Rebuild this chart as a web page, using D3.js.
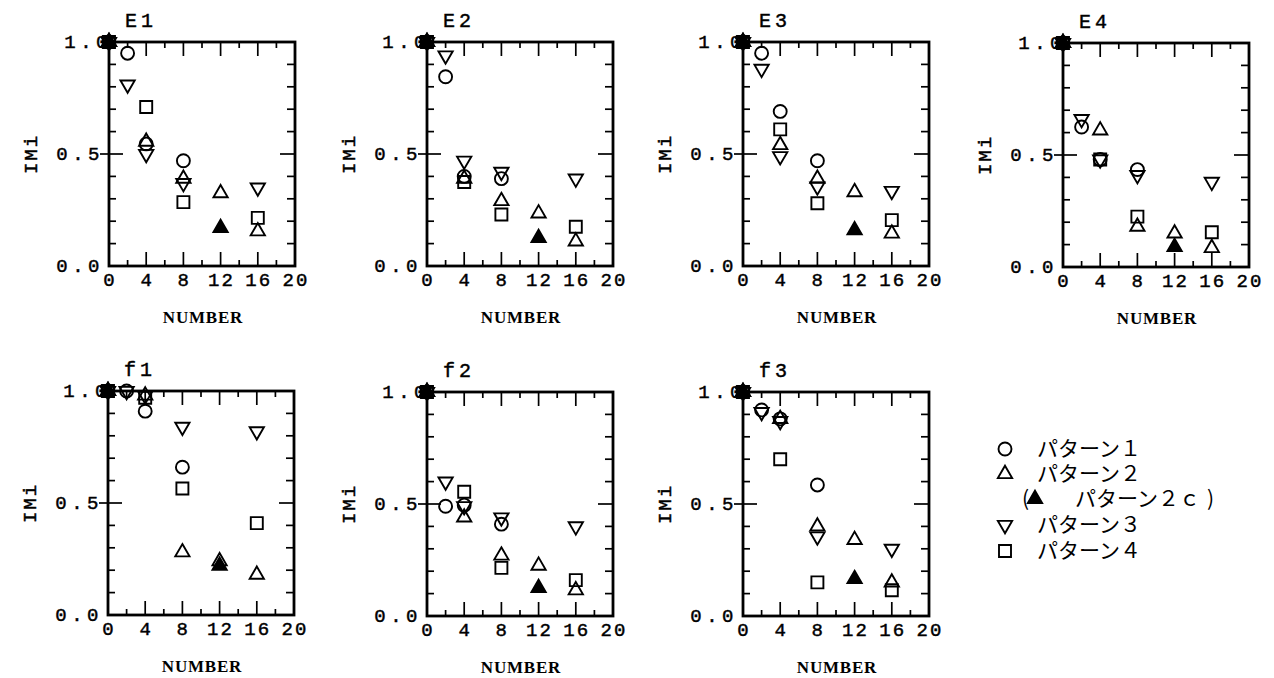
<!DOCTYPE html>
<html>
<head>
<meta charset="utf-8">
<script src="https://cdn.jsdelivr.net/npm/d3@7"></script>
<style>
  body { margin: 0; background: #fff; }
  svg { display: block; }
</style>
</head>
<body>
<script>
// panel names and ticks
var panels = ['E1', 'E2', 'E3', 'E4', 'f1', 'f2', 'f3'];
var xTicks = [0, 4, 8, 12, 16, 20];
var yTicks = [0.0, 0.5, 1.0];

// x positions (NUMBER) for each pattern
var p1X = [0, 2, 4, 8];
var p2X = [0, 4, 8, 12, 16];
var p2cX = [0, 12];
var p3X = [0, 2, 4, 8, 16];
var p4X = [0, 4, 8, 16];

// IMi values, one row per panel (same order as panels)
var p1Y = [
  [1.0, 0.95, 0.545, 0.47],
  [1.0, 0.845, 0.40, 0.39],
  [1.0, 0.95, 0.69, 0.47],
  [1.0, 0.625, 0.48, 0.435],
  [1.0, 1.0, 0.91, 0.66],
  [1.0, 0.49, 0.495, 0.41],
  [1.0, 0.92, 0.88, 0.585]
];
var p2Y = [
  [1.0, 0.555, 0.39, 0.325, 0.155],
  [1.0, 0.39, 0.29, 0.235, 0.11],
  [1.0, 0.54, 0.39, 0.33, 0.145],
  [1.0, 0.61, 0.18, 0.15, 0.085],
  [1.0, 0.98, 0.28, 0.24, 0.18],
  [1.0, 0.44, 0.27, 0.225, 0.115],
  [1.0, 0.88, 0.40, 0.34, 0.15]
];
var p2cY = [
  [1.0, 0.17],
  [1.0, 0.125],
  [1.0, 0.16],
  [1.0, 0.09],
  [1.0, 0.22],
  [1.0, 0.125],
  [1.0, 0.165]
];
var p3Y = [
  [1.0, 0.81, 0.50, 0.37, 0.35],
  [1.0, 0.94, 0.47, 0.42, 0.39],
  [1.0, 0.88, 0.49, 0.355, 0.335],
  [1.0, 0.66, 0.48, 0.41, 0.38],
  [1.0, 1.0, 0.98, 0.84, 0.82],
  [1.0, 0.60, 0.49, 0.44, 0.40],
  [1.0, 0.91, 0.87, 0.355, 0.30]
];
var p4Y = [
  [1.0, 0.71, 0.285, 0.215],
  [1.0, 0.375, 0.23, 0.175],
  [1.0, 0.61, 0.28, 0.205],
  [1.0, 0.48, 0.225, 0.155],
  [1.0, 0.97, 0.565, 0.41],
  [1.0, 0.555, 0.215, 0.16],
  [1.0, 0.70, 0.15, 0.115]
];

var legendLabels = ['パターン１', 'パターン２', 'パターン２ｃ', 'パターン３', 'パターン４'];

// layout
var W = 1274, H = 678;
var pw = 186, ph = 224;
var panelLeft = [109, 427, 743, 1063, 108, 427, 743];
var panelTop = [42, 42, 42, 43, 391, 392, 392];
var mono = "'Liberation Mono', 'DejaVu Sans Mono', monospace";
var jp = "'Noto Sans CJK JP', sans-serif";

var svg = d3.select('body').append('svg')
    .attr('width', W)
    .attr('height', H);

var x = d3.scaleLinear().domain([0, 20]).range([0, pw]);
var y = d3.scaleLinear().domain([0, 1]).range([ph, 0]);

var sym = {
  circle: d3.symbol().type(d3.symbolCircle).size(132)(),
  up: d3.symbol().type(d3.symbolTriangle).size(88)(),
  square: d3.symbol().type(d3.symbolSquare).size(144)()
};

var series = [
  {xs: p1X, ys: p1Y, shape: 'circle', fill: 'none', rot: 0},
  {xs: p2X, ys: p2Y, shape: 'up', fill: 'none', rot: 0},
  {xs: p2cX, ys: p2cY, shape: 'up', fill: '#000', rot: 0},
  {xs: p3X, ys: p3Y, shape: 'up', fill: 'none', rot: 180},
  {xs: p4X, ys: p4Y, shape: 'square', fill: 'none', rot: 0}
];

function monoText(sel, size, spacing) {
  return sel.attr('font-family', mono)
      .attr('font-size', size)
      .attr('letter-spacing', spacing)
      .attr('fill', '#000')
      .attr('stroke', '#000')
      .attr('stroke-width', 0.45);
}

panels.forEach(function(name, i) {
  var g = svg.append('g')
      .attr('transform', 'translate(' + panelLeft[i] + ',' + panelTop[i] + ')');

  // ticks along x (every 2), bottom and top
  d3.range(2, 20, 2).forEach(function(v) {
    var len = v % 4 === 0 ? 14 : 6;
    g.append('line').attr('x1', x(v)).attr('x2', x(v))
        .attr('y1', ph).attr('y2', ph - len)
        .attr('stroke', '#000').attr('stroke-width', 1.7);
    g.append('line').attr('x1', x(v)).attr('x2', x(v))
        .attr('y1', 0).attr('y2', len)
        .attr('stroke', '#000').attr('stroke-width', 1.7);
  });
  // ticks along y (every 0.1), left and right
  d3.range(1, 10).forEach(function(k) {
    var v = k / 10;
    var big = k === 5;
    g.append('line').attr('x1', big ? -9 : 0).attr('x2', big ? 14 : 7)
        .attr('y1', y(v)).attr('y2', y(v))
        .attr('stroke', '#000').attr('stroke-width', 1.7);
    g.append('line').attr('x1', pw).attr('x2', pw - (big ? 15 : 8))
        .attr('y1', y(v)).attr('y2', y(v))
        .attr('stroke', '#000').attr('stroke-width', 1.7);
  });

  // frame
  g.append('rect')
      .attr('width', pw).attr('height', ph)
      .attr('fill', 'none')
      .attr('stroke', '#000')
      .attr('stroke-width', 2.8);

  // tick labels
  monoText(g.selectAll('.xl').data(xTicks).enter().append('text'), 19, 2.2)
      .attr('x', function(d) { return x(d) + 1; })
      .attr('y', ph + 20)
      .attr('text-anchor', 'middle')
      .text(function(d) { return d; });

  monoText(g.selectAll('.yl').data(yTicks).enter().append('text'), 19, 4.5)
      .attr('x', function(d) { return d === 1 ? 3 : -5; })
      .attr('y', function(d) { return y(d) + 6; })
      .attr('text-anchor', 'end')
      .text(function(d) { return d.toFixed(1); });

  // panel title
  monoText(g.append('text'), 20, 4)
      .attr('x', 16).attr('y', -15)
      .text(name);

  // axis titles
  monoText(g.append('text'), 19, 2)
      .attr('transform', 'translate(' + (-72) + ',' + (ph / 2) + ') rotate(-90)')
      .attr('text-anchor', 'middle')
      .text('IMi');

  g.append('text')
      .attr('x', pw / 2 + 1).attr('y', ph + 57)
      .attr('text-anchor', 'middle')
      .attr('font-family', "'Liberation Serif', serif")
      .attr('font-weight', 'bold')
      .attr('font-size', 17)
      .attr('letter-spacing', 0.8)
      .text('NUMBER');

  // markers
  series.forEach(function(s) {
    var pts = s.xs.map(function(xv, j) { return [xv, s.ys[i][j]]; });
    g.selectAll(null).data(pts).enter().append('path')
        .attr('d', sym[s.shape])
        .attr('transform', function(d) {
          return 'translate(' + x(d[0]) + ',' + y(d[1]) + ') rotate(' + s.rot + ')';
        })
        .attr('fill', s.fill)
        .attr('stroke', '#000')
        .attr('stroke-width', 1.9);
  });
});

// legend
var lg = svg.append('g').attr('transform', 'translate(1005,449)');
var legendRows = [
  {shape: 'circle', fill: 'none', rot: 0, mx: 0, tx: 32, dy: 0},
  {shape: 'up', fill: 'none', rot: 0, mx: 0, tx: 32, dy: 25},
  {shape: 'up', fill: '#000', rot: 0, mx: 30, tx: 70, dy: 50},
  {shape: 'up', fill: 'none', rot: 180, mx: 0, tx: 32, dy: 76},
  {shape: 'square', fill: 'none', rot: 0, mx: 0, tx: 32, dy: 102}
];
legendRows.forEach(function(r, k) {
  lg.append('path')
      .attr('d', sym[r.shape])
      .attr('transform', 'translate(' + r.mx + ',' + r.dy + ') rotate(' + r.rot + ')')
      .attr('fill', r.fill)
      .attr('stroke', '#000')
      .attr('stroke-width', 1.9);
  lg.append('text')
      .attr('x', r.tx).attr('y', r.dy + 7)
      .attr('font-family', jp)
      .attr('font-size', 21)
      .text(legendLabels[k]);
});
lg.append('text').attr('x', 17).attr('y', 57)
    .attr('font-family', jp)
    .attr('font-size', 21).text('(');
lg.append('text').attr('x', 202).attr('y', 57)
    .attr('font-family', jp)
    .attr('font-size', 21).text(')');
</script>
</body>
</html>
